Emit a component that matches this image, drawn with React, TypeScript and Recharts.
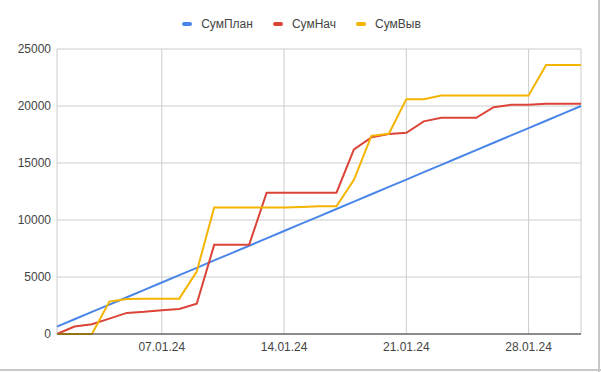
import { CartesianGrid, Legend, Line, LineChart, XAxis, YAxis } from 'recharts';

const days = [
  '01.01.24', '02.01.24', '03.01.24', '04.01.24', '05.01.24', '06.01.24', '07.01.24',
  '08.01.24', '09.01.24', '10.01.24', '11.01.24', '12.01.24', '13.01.24', '14.01.24',
  '15.01.24', '16.01.24', '17.01.24', '18.01.24', '19.01.24', '20.01.24', '21.01.24',
  '22.01.24', '23.01.24', '24.01.24', '25.01.24', '26.01.24', '27.01.24', '28.01.24',
  '29.01.24', '30.01.24', '31.01.24',
];

const sumPlan = [
  645, 1290, 1935, 2581, 3226, 3871, 4516, 5161, 5806, 6452, 7097, 7742, 8387, 9032, 9677,
  10323, 10968, 11613, 12258, 12903, 13548, 14194, 14839, 15484, 16129, 16774, 17419, 18065,
  18710, 19355, 20000,
];

const sumNach = [
  0, 650, 850, 1350, 1850, 1950, 2090, 2200, 2650, 7820, 7820, 7820, 12400, 12400, 12400,
  12400, 12400, 16200, 17250, 17550, 17650, 18650, 18970, 18970, 18970, 19900, 20100, 20120,
  20200, 20200, 20200,
];

const sumVyv = [
  0, 0, 0, 2840, 3070, 3100, 3100, 3100, 5470, 11090, 11090, 11090, 11090, 11090, 11150,
  11200, 11200, 13520, 17380, 17560, 20600, 20600, 20920, 20920, 20920, 20920, 20920, 20920,
  23590, 23590, 23590,
];

const xTicks = [7, 14, 21, 28];
const yTicks = [0, 5000, 10000, 15000, 20000, 25000];

const series = [
  { key: 'plan', name: 'СумПлан', color: '#4a86e8' },
  { key: 'nach', name: 'СумНач', color: '#db4437' },
  { key: 'vyv', name: 'СумВыв', color: '#f4b400' },
];

const data = days.map((label, i) => ({
  day: i + 1,
  label,
  plan: sumPlan[i],
  nach: sumNach[i],
  vyv: sumVyv[i],
}));

const FONT = '"Liberation Sans", Arial, sans-serif';

function ChartLegend() {
  return (
    <div
      style={{
        display: 'flex',
        justifyContent: 'center',
        alignItems: 'center',
        fontFamily: FONT,
        fontSize: 12,
        color: '#444',
        height: 20,
        paddingLeft: 22,
      }}
    >
      {series.map((s, i) => (
        <div
          key={s.key}
          style={{ display: 'flex', alignItems: 'center', marginLeft: i === 0 ? 0 : 20 }}
        >
          <span
            style={{
              display: 'inline-block',
              width: 10,
              height: 4,
              borderRadius: 2,
              background: s.color,
              marginRight: 9,
            }}
          />
          <span>{s.name}</span>
        </div>
      ))}
    </div>
  );
}

export default function App() {
  return (
    <div
      style={{
        position: 'fixed',
        left: 0,
        top: 0,
        width: 601,
        height: 372,
        background: '#fff',
      }}
    >
      <LineChart
        width={601}
        height={372}
        data={data}
        margin={{ top: 29, right: 20, bottom: 8, left: 0 }}
      >
        <CartesianGrid stroke="#cccccc" strokeWidth={1} />
        <XAxis
          dataKey="day"
          type="number"
          domain={[1, 31]}
          ticks={xTicks}
          tickFormatter={(v) => days[v - 1]}
          height={30}
          tickLine={false}
          tickMargin={2}
          axisLine={{ stroke: '#333', strokeWidth: 1 }}
          tick={{ fill: '#444', fontSize: 12, fontFamily: FONT }}
        />
        <YAxis
          domain={[0, 25000]}
          ticks={yTicks}
          width={57}
          tickLine={false}
          axisLine={false}
          tickMargin={0}
          tick={{ fill: '#444', fontSize: 12, fontFamily: FONT }}
        />
        <Legend verticalAlign="top" content={<ChartLegend />} wrapperStyle={{ top: 14 }} />
        {series.map((s) => (
          <Line
            key={s.key}
            type="linear"
            dataKey={s.key}
            name={s.name}
            stroke={s.color}
            strokeWidth={2}
            dot={false}
            isAnimationActive={false}
          />
        ))}
      </LineChart>
      <div
        style={{
          position: 'absolute',
          right: 1,
          top: 0,
          width: 2,
          height: 372,
          background: '#c8c8c8',
        }}
      />
      <div
        style={{
          position: 'absolute',
          left: 0,
          bottom: 1,
          width: 601,
          height: 2,
          background: '#c8c8c8',
        }}
      />
    </div>
  );
}
